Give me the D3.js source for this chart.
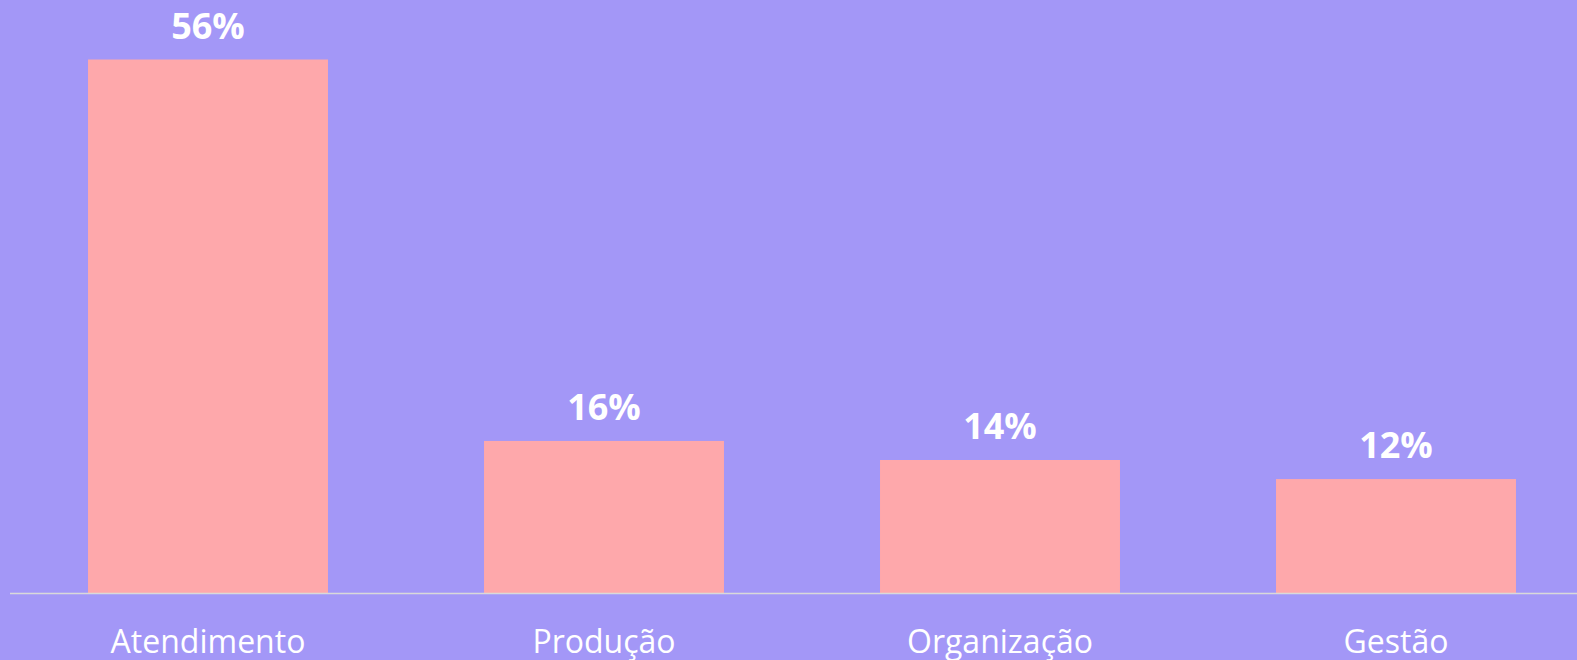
<!DOCTYPE html>
<html>
<head>
<meta charset="utf-8">
<script src="https://cdn.jsdelivr.net/npm/d3@7"></script>
<style>
  body { margin: 0; background: #a397f7; overflow: hidden; }
</style>
</head>
<body>
<div class="chart"></div>
<script>
var categories = ["Atendimento", "Produção", "Organização", "Gestão"];
var values = [56, 16, 14, 12];
var valueLabels = ["56%", "16%", "14%", "12%"];

var width = 1577, height = 660;
var baseline = 593.5;

var svg = d3.select(".chart")
    .append("svg")
    .attr("width", width)
    .attr("height", height);

svg.append("rect")
    .attr("width", width)
    .attr("height", height)
    .attr("fill", "#a397f7");

var x = d3.scaleBand()
    .domain(categories)
    .range([10, 1594])
    .paddingInner(0.394)
    .paddingOuter(0.197);

var y = d3.scaleLinear()
    .domain([0, 56])
    .range([baseline, 59.5]);

var data = categories.map(function(c, i) {
  return {name: c, value: values[i], label: valueLabels[i]};
});

svg.selectAll(".bar")
    .data(data)
    .enter().append("rect")
    .attr("class", "bar")
    .attr("x", function(d) { return x(d.name); })
    .attr("y", function(d) { return y(d.value); })
    .attr("width", x.bandwidth())
    .attr("height", function(d) { return baseline - y(d.value); })
    .attr("fill", "#fea8ab");

// axis line
svg.append("line")
    .attr("x1", 10)
    .attr("x2", width)
    .attr("y1", baseline)
    .attr("y2", baseline)
    .attr("stroke", "#d9d9d9")
    .attr("stroke-width", 1.5);

svg.selectAll(".val")
    .data(data)
    .enter().append("text")
    .attr("class", "val")
    .attr("x", function(d) { return x(d.name) + x.bandwidth() / 2; })
    .attr("y", function(d) { return y(d.value) - 21; })
    .attr("text-anchor", "middle")
    .attr("font-family", "Open Sans, sans-serif")
    .attr("font-weight", "bold")
    .attr("font-size", "36px")
    .attr("fill", "#ffffff")
    .text(function(d) { return d.label; });

svg.selectAll(".cat")
    .data(data)
    .enter().append("text")
    .attr("class", "cat")
    .attr("x", function(d) { return x(d.name) + x.bandwidth() / 2; })
    .attr("y", 653)
    .attr("text-anchor", "middle")
    .attr("font-family", "Open Sans, sans-serif")
    .attr("font-size", "32px")
    .attr("fill", "#ffffff")
    .text(function(d) { return d.name; });
</script>
</body>
</html>
